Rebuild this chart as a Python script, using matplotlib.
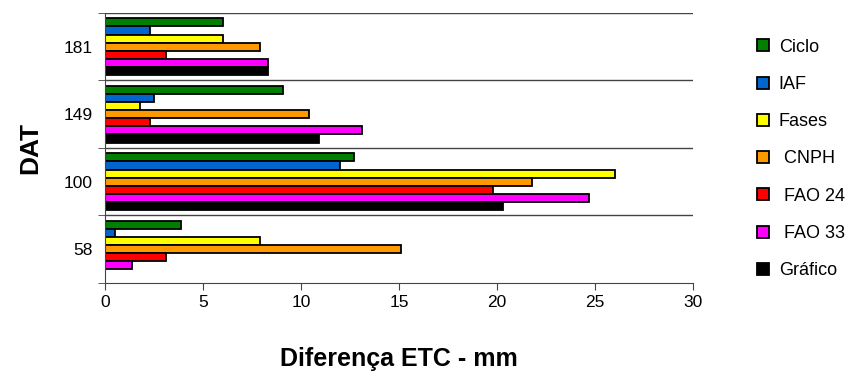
import matplotlib.pyplot as plt
import numpy as np

plt.rcParams['font.family'] = ['Liberation Sans', 'DejaVu Sans']

# data
dat_labels = ['58', '100', '149', '181']
series_names = ['Ciclo', 'IAF', 'Fases', ' CNPH', ' FAO 24', ' FAO 33', 'Gráfico']
ciclo = [3.9, 12.7, 9.1, 6.0]
iaf = [0.5, 12.0, 2.5, 2.3]
fases = [7.9, 26.0, 1.8, 6.0]
cnph = [15.1, 21.8, 10.4, 7.9]
fao24 = [3.1, 19.8, 2.3, 3.1]
fao33 = [1.4, 24.7, 13.1, 8.3]
grafico = [0.0, 20.3, 10.9, 8.3]
series_values = [ciclo, iaf, fases, cnph, fao24, fao33, grafico]
colors = ['#008000', '#0066CC', '#FFFF00', '#FF9900', '#FF0000', '#FF00FF', '#000000']

fig = plt.figure(figsize=(8.59, 3.71), dpi=100)
ax = fig.add_axes([0.1222, 0.2372, 0.6846, 0.7278])

y = np.arange(len(dat_labels))
h = 0.12
n = len(series_names)
handles = []
for i, (name, vals, c) in enumerate(zip(series_names, series_values, colors)):
    off = (n - 1) / 2 * h - i * h
    ax.barh(y + off, vals, height=h, color=c, edgecolor='black', linewidth=1.3)
    handles.append(plt.Line2D([], [], marker='s', linestyle='none', markersize=8,
                              markerfacecolor=c, markeredgecolor='black',
                              markeredgewidth=1.3, label=name))

# separators between categories
for b in np.arange(len(dat_labels) + 1) - 0.5:
    if b > -0.5:
        ax.axhline(b, color='#444444', linewidth=1.0, zorder=0)

ax.set_xlim(0, 30)
ax.set_ylim(-0.5, len(dat_labels) - 0.5)
ax.set_xticks(np.arange(0, 31, 5))
ax.set_yticks(y)
ax.set_yticklabels(dat_labels)
ax.set_yticks(np.arange(len(dat_labels) + 1) - 0.5, minor=True)
ax.tick_params(axis='y', which='major', length=0, labelsize=12.5, pad=9)
ax.tick_params(axis='y', which='minor', length=5, direction='out', color='#444444')
ax.tick_params(axis='x', length=5, direction='out', labelsize=12.5, color='#444444')

for s in ['top', 'right']:
    ax.spines[s].set_visible(False)
ax.spines['left'].set_color('#444444')
ax.spines['bottom'].set_color('#444444')

ax.set_xlabel('Diferença ETC - mm', fontsize=18, fontweight='bold', labelpad=27)
ax.set_ylabel('DAT', fontsize=19, fontweight='bold', labelpad=15)

fig.legend(handles=handles, loc='upper left', bbox_to_anchor=(0.872, 0.915),
           frameon=False, fontsize=13, labelspacing=1.12, handlelength=0.8,
           handletextpad=0.45, borderaxespad=0)

fig.savefig('out.png', dpi=100)
